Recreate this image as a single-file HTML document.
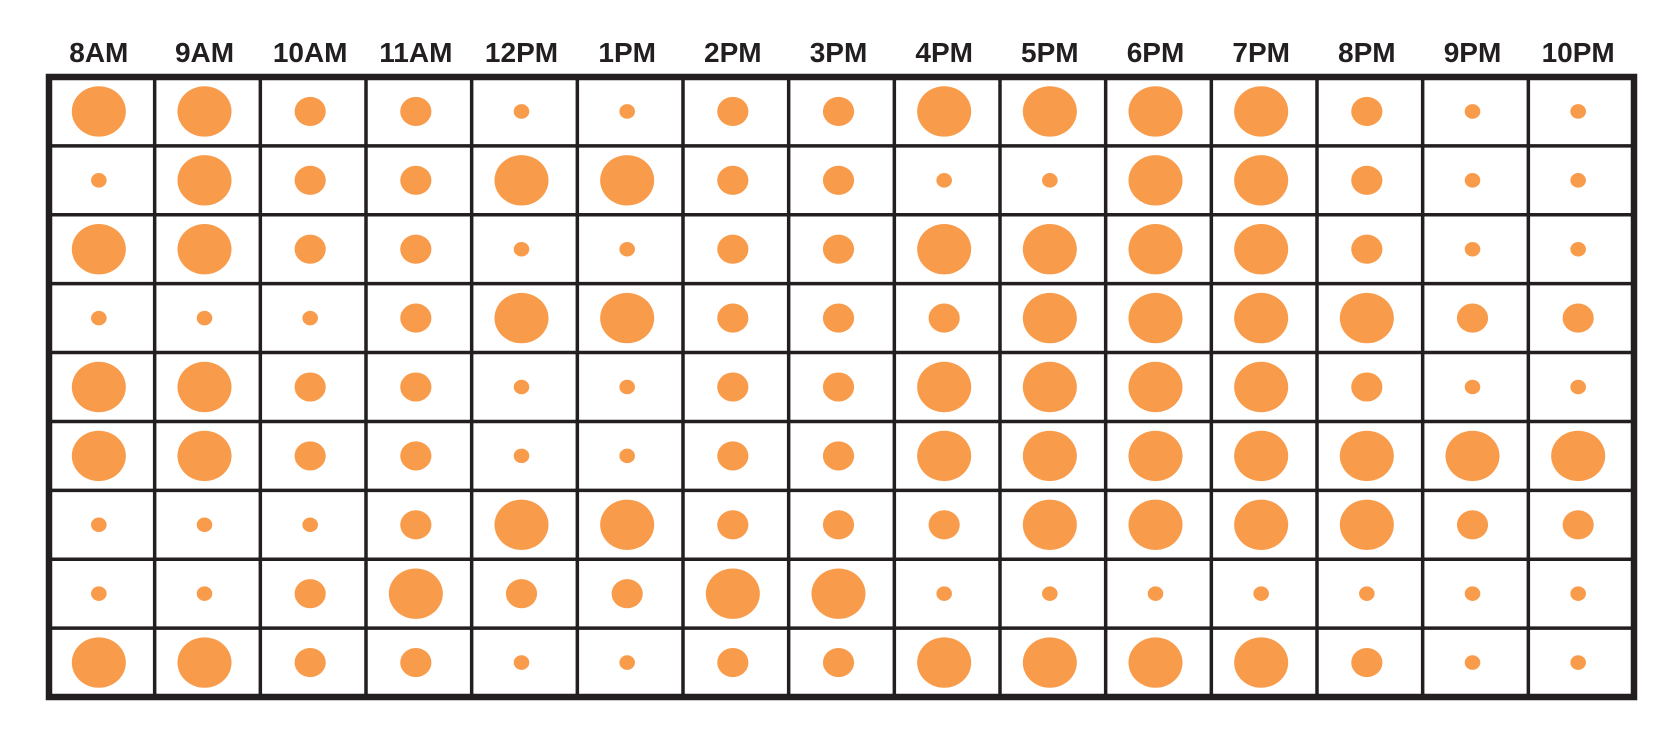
<!DOCTYPE html>
<html><head><meta charset="utf-8"><style>
html,body{margin:0;padding:0;background:#fff;width:1677px;height:745px;overflow:hidden}
svg{display:block}
text{font-family:"Liberation Sans",sans-serif;font-weight:bold;font-size:28px;fill:#231f20}
</style></head><body>
<svg id="chart" width="1677" height="745" viewBox="0 0 1677 745"></svg>
<script>
const hours = ["8AM","9AM","10AM","11AM","12PM","1PM","2PM","3PM","4PM","5PM","6PM","7PM","8PM","9PM","10PM"];
const row1 = [12,12,4,4,1,1,4,4,12,12,12,12,4,1,1];
const row2 = [1,12,4,4,12,12,4,4,1,1,12,12,4,1,1];
const row3 = [12,12,4,4,1,1,4,4,12,12,12,12,4,1,1];
const row4 = [1,1,1,4,12,12,4,4,4,12,12,12,12,4,4];
const row5 = [12,12,4,4,1,1,4,4,12,12,12,12,4,1,1];
const row6 = [12,12,4,4,1,1,4,4,12,12,12,12,12,12,12];
const row7 = [1,1,1,4,12,12,4,4,4,12,12,12,12,4,4];
const row8 = [1,1,4,12,4,4,12,12,1,1,1,1,1,1,1];
const row9 = [12,12,4,4,1,1,4,4,12,12,12,12,4,1,1];
const rows = [row1,row2,row3,row4,row5,row6,row7,row8,row9];

const NS="http://www.w3.org/2000/svg";
const svg=document.getElementById('chart');
const L=49,T=77,R=1634,B=697;
const cw=(R-L)/hours.length, rh=(B-T)/rows.length;
const xC=i=>L+cw*(i+0.5), yC=j=>T+rh*(j+0.5);
const diam=v=>15*Math.sqrt(v);
function mk(tag,attrs){const e=document.createElementNS(NS,tag);for(const k in attrs)e.setAttribute(k,attrs[k]);svg.appendChild(e);return e;}

hours.forEach((h,i)=>{
  const t=mk('text',{x:xC(i)-3,y:62,'text-anchor':'middle'});
  t.textContent=h;
  
  
});
for(let i=1;i<hours.length;i++){
  const l=mk('line',{x1:L+cw*i,x2:L+cw*i,y1:T,y2:B,stroke:'#231f20','stroke-width':3.5});
  
  
}
for(let j=1;j<rows.length;j++){
  const l=mk('line',{x1:L,x2:R,y1:T+rh*j,y2:T+rh*j,stroke:'#231f20','stroke-width':3.5});
  
  
}
rows.forEach((row,j)=>row.forEach((v,i)=>{
  const d=diam(v);
  const e=mk('ellipse',{cx:xC(i)-3,cy:yC(j),rx:d*1.04/2,ry:d*0.97/2,fill:'#f89c4c'});
  
  
}));
const f=mk('rect',{x:L,y:T,width:R-L,height:B-T,fill:'none',stroke:'#231f20','stroke-width':6.5});


</script>
</body></html>
